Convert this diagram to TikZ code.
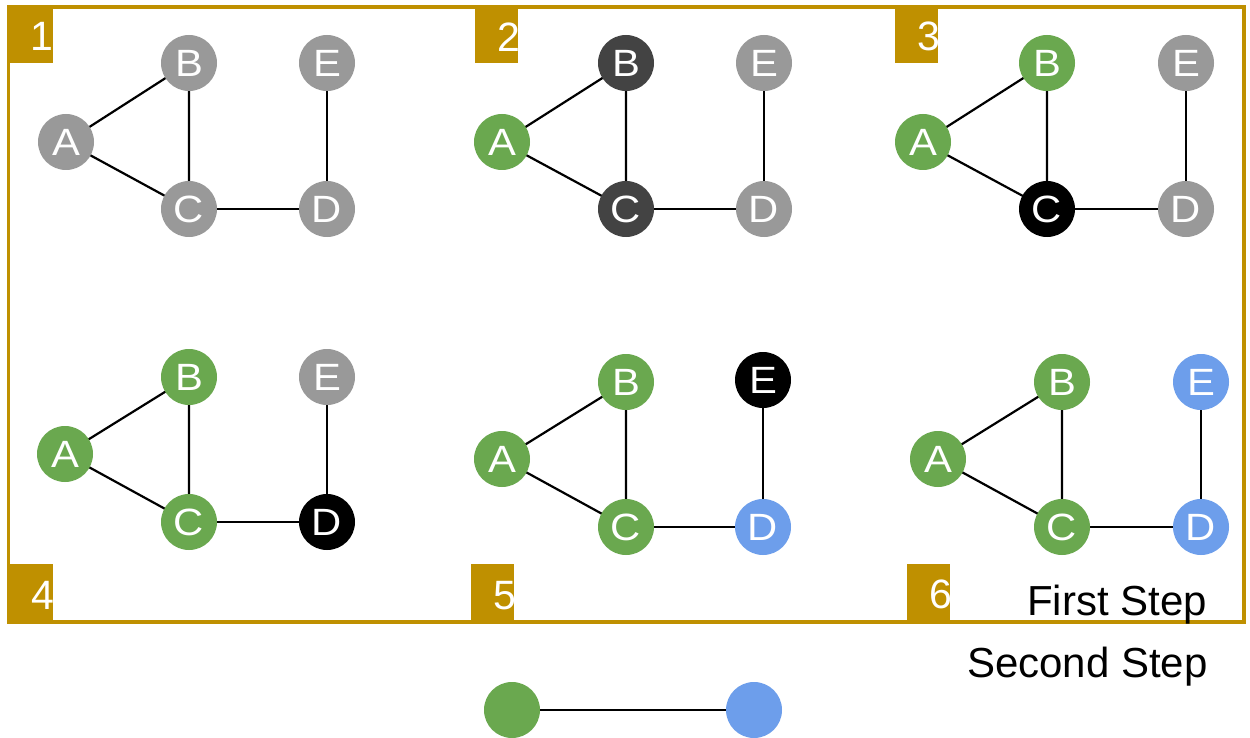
\documentclass[tikz,border=0pt]{standalone}
\usepackage{fontspec}
\setmainfont{Liberation Sans}
\definecolor{vgray}{HTML}{999999}
\definecolor{vdark}{HTML}{434343}
\definecolor{vgreen}{HTML}{6AA84F}
\definecolor{vblue}{HTML}{6D9EEB}
\definecolor{gold}{HTML}{BF9000}
% vertex letters are set slightly wide
\newcommand\wideletter[1]{\scalebox{1.1}[1]{#1}}
\tikzset{
  vtx/.style={circle,inner sep=0pt,minimum size=56pt,text=white,
    font=\fontsize{38}{38}\selectfont},
  edge/.style={draw=black,line width=2.2pt},
  tag/.style={fill=gold,draw=none},
  tagnum/.style={text=white,inner sep=0pt,anchor=base east,
    font=\fontsize{41}{41}\selectfont},
  legend/.style={inner sep=0pt,anchor=base west,
    font=\fontsize{42}{42}\selectfont}
}
\begin{document}
\begin{tikzpicture}[x=1pt,y=-1pt]
\useasboundingbox (0,0) rectangle (1250,738);
\fill[white] (0,0) rectangle (1250,738);

% outer frame
\draw[gold,line width=3.5pt] (8.5,7) rectangle (1244,622);

% step tags
\fill[tag] (10,8) rectangle (53,63);
\node[tagnum] (n1) at (54,51) {1};
\fill[tag] (475,8) rectangle (518,63);
\node[tagnum] (n2) at (520,52) {2};
\fill[tag] (895,8) rectangle (938,63);
\node[tagnum] (n3) at (940,51) {3};
\fill[tag] (10,564) rectangle (53,620);
\node[tagnum] (n4) at (55,609) {4};
\fill[tag] (471,564) rectangle (514,620);
\node[tagnum] (n5) at (516,609) {5};
\fill[tag] (907,564) rectangle (950,620);
\node[tagnum] (n6) at (952,608) {6};

% vertex centres of the six graphs
\coordinate (aA) at (66,142);  \coordinate (aB) at (189,63);
\coordinate (aC) at (189,209); \coordinate (aD) at (327,209);
\coordinate (aE) at (327,63);
\coordinate (bA) at (502,142); \coordinate (bB) at (626,63);
\coordinate (bC) at (626,209); \coordinate (bD) at (764,209);
\coordinate (bE) at (764,63);
\coordinate (cA) at (923,142); \coordinate (cB) at (1047,63);
\coordinate (cC) at (1047,209); \coordinate (cD) at (1186,209);
\coordinate (cE) at (1186,63);
\coordinate (dA) at (65,454);  \coordinate (dB) at (189,377);
\coordinate (dC) at (189,522); \coordinate (dD) at (327,522);
\coordinate (dE) at (327,377);
\coordinate (eA) at (502,459); \coordinate (eB) at (626,382);
\coordinate (eC) at (626,527); \coordinate (eD) at (763,527);
\coordinate (eE) at (763,380);
\coordinate (fA) at (938,459); \coordinate (fB) at (1062,382);
\coordinate (fC) at (1062,527); \coordinate (fD) at (1201,527);
\coordinate (fE) at (1201,382);

% edges first, vertices on top
\foreach \p in {a,b,c,d,e,f}{
  \draw[edge] (\p A) -- (\p B) -- (\p C) -- (\p A);
  \draw[edge] (\p C) -- (\p D) -- (\p E);
}

% graph 1
\node[vtx,fill=vgray] (A1) at (aA) {\wideletter{A}};
\node[vtx,fill=vgray] (B1) at (aB) {\wideletter{B}};
\node[vtx,fill=vgray] (C1) at (aC) {\wideletter{C}};
\node[vtx,fill=vgray] (D1) at (aD) {\wideletter{D}};
\node[vtx,fill=vgray] (E1) at (aE) {\wideletter{E}};
% graph 2
\node[vtx,fill=vgreen] (A2) at (bA) {\wideletter{A}};
\node[vtx,fill=vdark] (B2) at (bB) {\wideletter{B}};
\node[vtx,fill=vdark] (C2) at (bC) {\wideletter{C}};
\node[vtx,fill=vgray] (D2) at (bD) {\wideletter{D}};
\node[vtx,fill=vgray] (E2) at (bE) {\wideletter{E}};
% graph 3
\node[vtx,fill=vgreen] (A3) at (cA) {\wideletter{A}};
\node[vtx,fill=vgreen] (B3) at (cB) {\wideletter{B}};
\node[vtx,fill=black] (C3) at (cC) {\wideletter{C}};
\node[vtx,fill=vgray] (D3) at (cD) {\wideletter{D}};
\node[vtx,fill=vgray] (E3) at (cE) {\wideletter{E}};
% graph 4
\node[vtx,fill=vgreen] (A4) at (dA) {\wideletter{A}};
\node[vtx,fill=vgreen] (B4) at (dB) {\wideletter{B}};
\node[vtx,fill=vgreen] (C4) at (dC) {\wideletter{C}};
\node[vtx,fill=black] (D4) at (dD) {\wideletter{D}};
\node[vtx,fill=vgray] (E4) at (dE) {\wideletter{E}};
% graph 5
\node[vtx,fill=vgreen] (A5) at (eA) {\wideletter{A}};
\node[vtx,fill=vgreen] (B5) at (eB) {\wideletter{B}};
\node[vtx,fill=vgreen] (C5) at (eC) {\wideletter{C}};
\node[vtx,fill=vblue] (D5) at (eD) {\wideletter{D}};
\node[vtx,fill=black] (E5) at (eE) {\wideletter{E}};
% graph 6
\node[vtx,fill=vgreen] (A6) at (fA) {\wideletter{A}};
\node[vtx,fill=vgreen] (B6) at (fB) {\wideletter{B}};
\node[vtx,fill=vgreen] (C6) at (fC) {\wideletter{C}};
\node[vtx,fill=vblue] (D6) at (fD) {\wideletter{D}};
\node[vtx,fill=vblue] (E6) at (fE) {\wideletter{E}};

% legend
\node[legend] (first) at (1027,615) {First Step};
\node[legend] (second) at (967,677) {Second Step};
\node[vtx,fill=vgreen] (lg) at (512,710) {};
\node[vtx,fill=vblue] (lb) at (754,710) {};
\draw[edge] (lg) -- (lb);
\end{tikzpicture}
\end{document}
